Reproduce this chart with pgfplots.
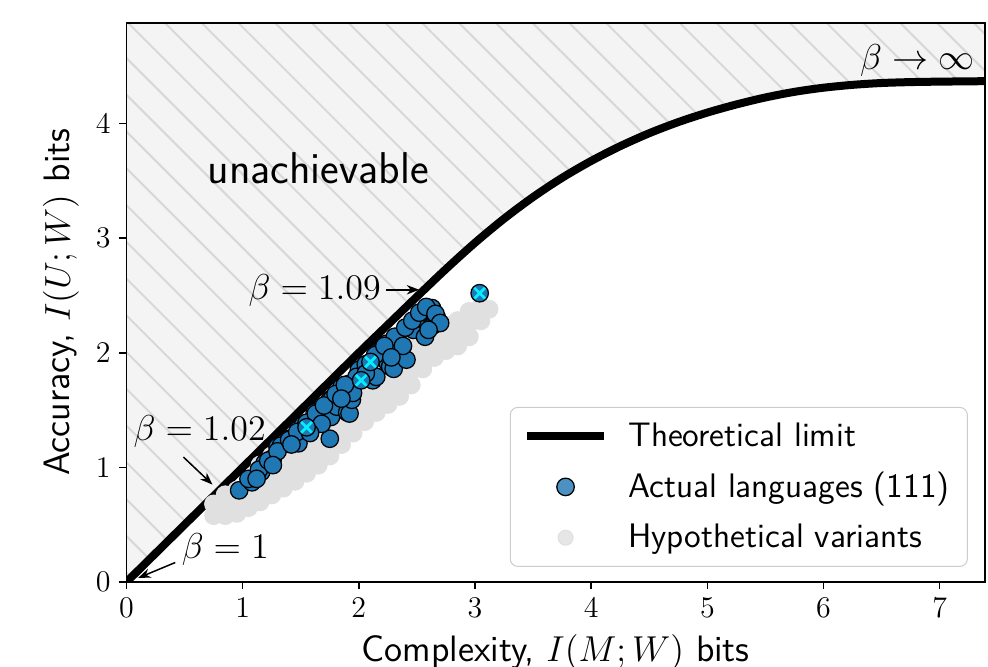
\documentclass[border=0pt]{standalone}
\usepackage{pgfplots}
\usepackage{pgfplotstable}
\pgfplotsset{compat=1.18}
\usetikzlibrary{patterns.meta,arrows.meta}
\renewcommand{\familydefault}{\sfdefault}
\definecolor{mplblue}{HTML}{1F77B4}
\definecolor{hatchfill}{HTML}{F4F4F4}
\definecolor{hatchline}{HTML}{D8D8D8}
\definecolor{variant}{HTML}{E0E0E0}
\definecolor{xcyan}{HTML}{00F0FF}

\pgfplotsset{
  lineleg/.style={legend image code/.code={\draw[##1] (0cm,0cm) -- (1.09cm,0cm);}},
  markleg/.style={legend image code/.code={\draw[##1] plot coordinates {(0.545cm,0cm)};}},
}

% theoretical limit
\pgfplotstableread{
x y
0 0
0.5 0.5
1 1
1.5 1.5
2 2
2.25 2.245
2.5 2.49
2.75 2.731
3.0 2.960
3.25 3.170
3.5 3.359
3.75 3.527
4.0 3.674
4.25 3.803
4.5 3.916
4.75 4.013
5.0 4.096
5.25 4.167
5.5 4.228
5.75 4.277
6.0 4.313
6.25 4.338
6.5 4.354
6.75 4.362
7.0 4.366
7.39 4.37
}\limit

\pgfplotstableread{
x y
0.97 0.80
1.08 0.87
1.16 0.96
1.19 1.04
1.26 1.08
1.30 1.18
1.40 1.25
1.33 1.19
1.48 1.21
1.52 1.37
1.61 1.41
1.65 1.50
1.62 1.48
1.75 1.25
1.75 1.46
1.76 1.44
1.75 1.59
1.77 1.60
1.81 1.53
1.90 1.48
1.92 1.47
1.94 1.59
1.88 1.69
1.85 1.70
1.92 1.73
1.95 1.65
2.00 1.85
1.98 1.79
2.12 1.76
2.15 1.79
2.25 1.91
2.27 1.88
2.30 1.86
2.18 2.02
2.21 2.05
2.24 2.08
2.22 2.04
2.30 2.00
2.35 2.02
2.41 1.94
2.31 2.14
2.47 2.20
2.57 2.14
2.53 2.30
2.54 2.30
2.63 2.24
2.64 2.24
2.67 2.30
2.67 2.31
2.63 2.39
1.05 0.90
1.14 0.98
1.22 1.06
1.30 1.14
1.40 1.24
1.47 1.31
1.55 1.39
1.63 1.47
1.70 1.54
1.80 1.64
1.88 1.72
2.06 1.90
2.14 1.98
2.22 2.06
2.40 2.22
2.46 2.28
2.52 2.35
2.58 2.40
2.66 2.34
2.70 2.26
2.60 2.20
2.38 2.06
2.28 1.96
2.06 1.82
1.85 1.60
1.68 1.38
1.58 1.30
1.42 1.20
1.26 1.02
1.12 0.90
1.55 1.35
2.02 1.76
2.10 1.92
3.04 2.52
}\actual

\pgfplotstableread{
x y
1.55 1.35
2.02 1.76
2.10 1.92
3.04 2.52
}\marked

\pgfplotstableread{
x y
0.75 0.58
0.75 0.68
0.85 0.58
0.85 0.68
0.85 0.76
0.95 0.60
0.95 0.70
0.95 0.80
1.05 0.65
1.05 0.77
1.05 0.89
1.15 0.70
1.15 0.82
1.15 0.94
1.15 1.02
1.25 0.76
1.25 0.88
1.25 1.00
1.25 1.10
1.35 0.82
1.35 0.94
1.35 1.06
1.35 1.18
1.45 0.88
1.45 1.00
1.45 1.12
1.45 1.24
1.55 0.95
1.55 1.07
1.55 1.19
1.55 1.31
1.65 1.02
1.65 1.14
1.65 1.26
1.65 1.38
1.75 1.10
1.75 1.22
1.75 1.34
1.75 1.46
1.85 1.20
1.85 1.32
1.85 1.44
1.85 1.56
1.95 1.30
1.95 1.42
1.95 1.54
1.95 1.66
2.05 1.40
2.05 1.52
2.05 1.64
2.05 1.76
2.15 1.48
2.15 1.60
2.15 1.72
2.15 1.84
2.25 1.55
2.25 1.67
2.25 1.79
2.25 1.91
2.35 1.62
2.35 1.74
2.35 1.86
2.35 1.98
2.35 2.08
2.45 1.72
2.45 1.84
2.45 1.96
2.45 2.08
2.45 2.16
2.55 1.86
2.55 1.98
2.55 2.10
2.55 2.22
2.65 1.96
2.65 2.08
2.65 2.20
2.65 2.30
2.75 2.02
2.75 2.14
2.75 2.24
2.85 2.06
2.85 2.18
2.85 2.28
2.95 2.14
2.95 2.26
2.95 2.36
3.05 2.28
3.05 2.40
3.12 2.38
}\variants

\begin{document}
\begin{tikzpicture}
\begin{axis}[
  scale only axis,
  width=343.4pt, height=223.7pt,
  xmin=0, xmax=7.39, ymin=0, ymax=4.88,
  xtick={0,...,7}, ytick={0,...,4},
  tick align=outside, xtick pos=bottom, ytick pos=left,
  major tick length=2.8pt,
  tick style={black, line width=0.6pt},
  axis line style={line width=0.7pt},
  axis on top,
  ticklabel style={font=\fontsize{12.5}{14}\selectfont},
  label style={font=\fontsize{14.7}{17}\selectfont},
  xlabel={Complexity, $I(M;W)$ bits},
  ylabel={Accuracy, $I(U;W)$ bits},
  legend style={at={(0.980,0.313)}, anchor=north east,
    draw=black!20, rounded corners=3pt, fill=white, fill opacity=0.8,
    text opacity=1, font=\fontsize{13.6}{16}\selectfont,
    row sep=5pt, inner xsep=5pt, inner ysep=4pt,
    /tikz/every odd column/.append style={column sep=6pt}},
  legend cell align=left,
]
\addlegendimage{black, line width=3.2pt, lineleg}
\addlegendentry{Theoretical limit}
\addlegendimage{only marks, mark=*, mark size=3.5pt,
  mark options={fill=mplblue, draw=black, line width=0.5pt}, markleg}
\addlegendentry{Actual languages (111)}
\addlegendimage{only marks, mark=*, mark size=3pt,
  mark options={fill=variant, draw=variant}, markleg}
\addlegendentry{Hypothetical variants}

% unachievable region
\addplot[forget plot, draw=none, fill=hatchfill,
  postaction={pattern={Lines[angle=-45, distance=10.4pt, line width=0.8pt]},
  pattern color=hatchline}]
  table {\limit} -- (axis cs:7.39,4.88) -- (axis cs:0,4.88) -- cycle;

\addplot[forget plot, only marks, mark=*, mark size=3.6pt,
  mark options={fill=variant, draw=variant}] table {\variants};

\addplot[forget plot, black, line width=3.2pt, smooth, tension=0.5] table {\limit};

\addplot[forget plot, only marks, mark=*, mark size=3.5pt,
  mark options={fill=mplblue, draw=black, line width=0.5pt}] table {\actual};

\addplot[forget plot, only marks, color=xcyan, mark=x, mark size=3pt,
  line width=1.1pt] table {\marked};

\node[font=\fontsize{17.8}{20}\selectfont] at (axis cs:1.65,3.61) {unachievable};
\node[font=\fontsize{13.5}{16}\selectfont, inner sep=0pt] at (axis cs:0.63,1.31) {$\beta=1.02$};
\draw[-{Stealth[length=5pt]}, line width=0.6pt] (axis cs:0.49,1.09) -- (axis cs:0.74,0.85);
\node[font=\fontsize{13.5}{16}\selectfont, inner sep=0pt] at (axis cs:1.62,2.54) {$\beta=1.09$};
\draw[-{Stealth[length=5pt]}, line width=0.6pt] (axis cs:2.23,2.55) -- (axis cs:2.52,2.55);
\node[font=\fontsize{13.5}{16}\selectfont, inner sep=0pt] at (axis cs:0.85,0.28) {$\beta=1$};
\draw[-{Stealth[length=5pt]}, line width=0.6pt] (axis cs:0.42,0.17) -- (axis cs:0.10,0.035);
\node[font=\fontsize{13.5}{16}\selectfont, inner sep=0pt, anchor=east] at (axis cs:7.30,4.55) {$\beta\to\infty$};

\coordinate (bl) at (rel axis cs:0,0);
\coordinate (tr) at (rel axis cs:1,1);
\end{axis}
\pgfresetboundingbox
\useasboundingbox ([shift={(-50.6pt,-34pt)}]bl) rectangle ([shift={(1.2pt,9.1pt)}]tr);
\end{tikzpicture}
\end{document}
